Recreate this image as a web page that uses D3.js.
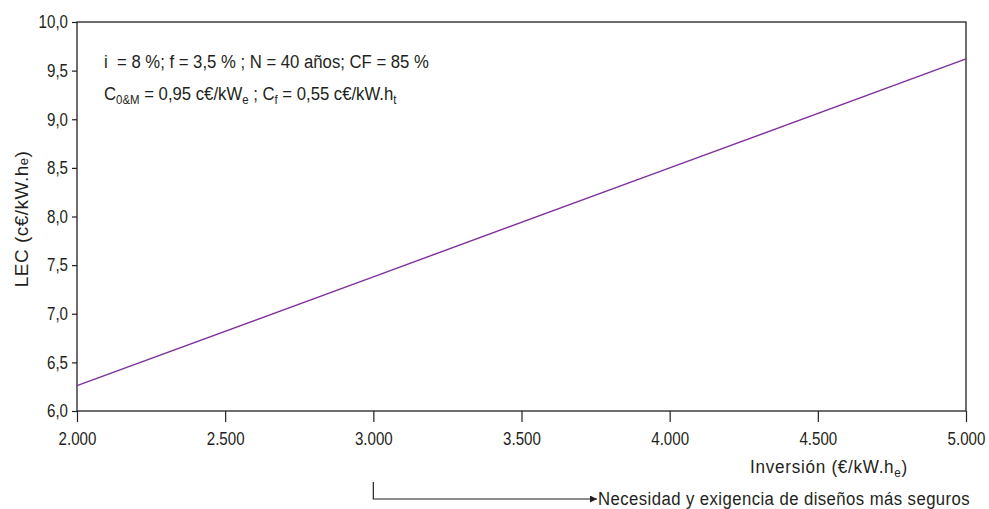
<!DOCTYPE html>
<html>
<head>
<meta charset="utf-8">
<script src="https://cdn.jsdelivr.net/npm/d3@7"></script>
<style>
  html, body { margin: 0; padding: 0; background: #fff; }
  svg text { font-family: "Liberation Sans", Arial, sans-serif; fill: #231f20; }
</style>
</head>
<body>
<svg id="chart" width="989" height="509"></svg>
<script>
// Levelised electricity cost versus investment cost
const investment = [2000, 3000, 4000, 5000];
const lec = [6.26, 7.38, 8.50, 9.62];
const xTicks = [2000, 2500, 3000, 3500, 4000, 4500, 5000];
const yTicks = [6.0, 6.5, 7.0, 7.5, 8.0, 8.5, 9.0, 9.5, 10.0];

const W = 989, H = 509;
const margin = { top: 22, right: 23, bottom: 98, left: 77 };
const iw = W - margin.left - margin.right;
const ih = H - margin.top - margin.bottom;
const FS = 18;      // tick label font size
const SX = 0.84;    // horizontal squeeze for a condensed look
const ink = "#231f20";

const svg = d3.select("#chart");
const g = svg.append("g").attr("transform", `translate(${margin.left},${margin.top})`);

// Place a text element at (x,y) with a condensed horizontal scale
function narrowAt(sel, px, py, sx) {
  sel.attr("x", 0).attr("y", 0)
    .attr("transform", `translate(${px},${py}) scale(${sx},1)`);
  return sel;
}

const x = d3.scaleLinear().domain([2000, 5000]).range([0, iw]);
const y = d3.scaleLinear().domain([6, 10]).range([ih, 0]);

const fmtX = v => d3.format(",")(v).replace(/,/g, ".");
const fmtY = v => d3.format(".1f")(v).replace(".", ",");

// Frame
g.append("rect").attr("x", 0).attr("y", 0).attr("width", iw).attr("height", ih)
  .attr("fill", "none").attr("stroke", ink).attr("stroke-width", 1.3);

// X axis
const xAxis = g.append("g").attr("transform", `translate(0,${ih})`)
  .call(d3.axisBottom(x).tickValues(xTicks).tickFormat(fmtX).tickSize(11).tickSizeOuter(0).tickPadding(10));
xAxis.select(".domain").remove();
xAxis.selectAll("line").attr("stroke", ink).attr("stroke-width", 1.2);
xAxis.selectAll("text").attr("font-size", FS).attr("fill", ink)
  .attr("font-family", "'Liberation Sans', Arial, sans-serif")
  .attr("transform", `scale(${SX},1)`);

// Y axis
const yAxis = g.append("g")
  .call(d3.axisLeft(y).tickValues(yTicks).tickFormat(fmtY).tickSize(5).tickSizeOuter(0).tickPadding(4));
yAxis.select(".domain").remove();
yAxis.selectAll("line").attr("stroke", ink).attr("stroke-width", 1.2);
yAxis.selectAll("text").attr("font-size", FS).attr("fill", ink)
  .attr("font-family", "'Liberation Sans', Arial, sans-serif")
  .attr("x", -9 / SX)
  .attr("transform", `scale(${SX},1)`);

// LEC line
const pts = investment.map((v, i) => [v, lec[i]]);
g.append("path").datum(pts)
  .attr("fill", "none").attr("stroke", "#7f2f9c").attr("stroke-width", 1.4)
  .attr("d", d3.line().x(d => x(d[0])).y(d => y(d[1])));

// Parameter annotation
narrowAt(svg.append("text").attr("font-size", 19), 104, 68, 0.88)
  .style("white-space", "pre")
  .text("i  = 8 %; f = 3,5 % ; N = 40 años; CF = 85 %");
const l2 = narrowAt(svg.append("text").attr("font-size", 19), 104, 100, 0.88);
l2.append("tspan").text("C");
l2.append("tspan").attr("font-size", 13).attr("dy", 4).text("0&M");
l2.append("tspan").attr("dy", -4).text(" = 0,95 c€/kW");
l2.append("tspan").attr("font-size", 13).attr("dy", 4).text("e");
l2.append("tspan").attr("dy", -4).text(" ; C");
l2.append("tspan").attr("font-size", 13).attr("dy", 4).text("f");
l2.append("tspan").attr("dy", -4).text(" = 0,55 c€/kW.h");
l2.append("tspan").attr("font-size", 13).attr("dy", 4).text("t");

// Y axis title
const yt = svg.append("text").attr("text-anchor", "middle").attr("font-size", 19)
  .attr("letter-spacing", 0.5)
  .attr("transform", "translate(28,219) rotate(-90)");
yt.append("tspan").text("LEC (c€/kW.h");
yt.append("tspan").attr("font-size", 13).text("e");
yt.append("tspan").text(")");

// X axis title
const xt = narrowAt(svg.append("text").attr("text-anchor", "end").attr("font-size", 19)
  .attr("letter-spacing", 0.8), 908, 473, 0.9);
xt.append("tspan").text("Inversión (€/kW.h");
xt.append("tspan").attr("font-size", 13).attr("dy", 4).text("e");
xt.append("tspan").attr("dy", -4).text(")");

// Arrow note from the 3.000 position
const ax = margin.left + x(3000);
svg.append("defs").append("marker").attr("id", "arrowHead")
  .attr("viewBox", "0 0 10 10").attr("refX", 10).attr("refY", 5)
  .attr("markerWidth", 9).attr("markerHeight", 7).attr("markerUnits", "userSpaceOnUse")
  .attr("orient", "auto")
  .append("path").attr("d", "M0,0 L10,5 L0,10 Z").attr("fill", ink);
svg.append("path")
  .attr("d", `M${ax},482 V499 H597`)
  .attr("fill", "none").attr("stroke", ink).attr("stroke-width", 1.2)
  .attr("marker-end", "url(#arrowHead)");
narrowAt(svg.append("text").attr("font-size", 19).attr("letter-spacing", 0.5), 598, 505, 0.88)
  .text("Necesidad y exigencia de diseños más seguros");
</script>
</body>
</html>
